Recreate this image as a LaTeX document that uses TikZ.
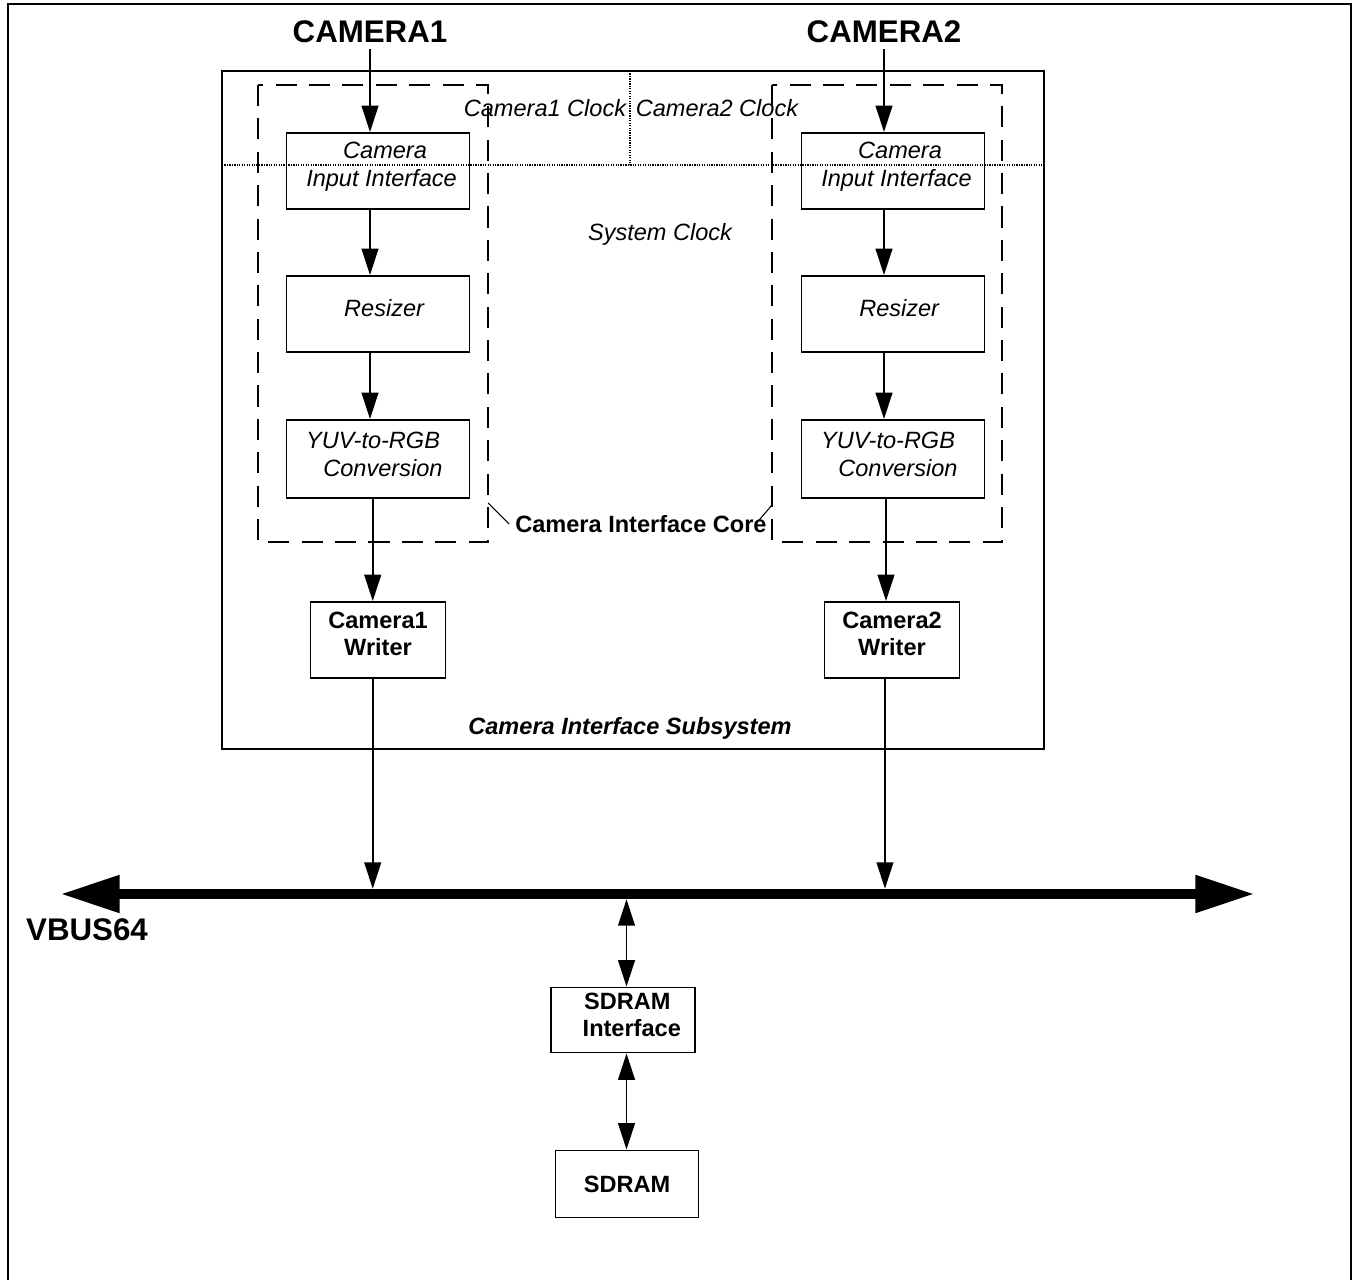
\documentclass[tikz,border=0pt]{standalone}
\usepackage{fontspec}
\setmainfont{Liberation Sans}
\usetikzlibrary{arrows.meta, positioning, calc}

\begin{document}
\begin{tikzpicture}[x=0.02cm, y=-0.02cm,
  unit/.style={draw, line width=1.1pt, inner sep=0pt, align=center,
    minimum width=3.66cm, minimum height=1.52cm,
    font=\fontsize{13.4}{15.9}\selectfont\itshape},
  wbox/.style={draw, line width=1.1pt, inner sep=0pt, align=center,
    font=\fontsize{13.4}{15.5}\selectfont\bfseries},
  flow/.style={line width=1.1pt, -{Triangle[length=15pt, width=9.5pt]}},
  flow2/.style={line width=1.1pt, {Triangle[length=15pt, width=9.5pt]}-{Triangle[length=15pt, width=9.5pt]}},
  core/.style={line width=1.1pt, dash pattern=on 12pt off 7pt},
  clk/.style={line width=0.6pt, dash pattern=on 0.7pt off 0.7pt},
  lbl/.style={font=\fontsize{13.4}{16}\selectfont\itshape},
  big/.style={font=\fontsize{17.8}{20}\selectfont\bfseries}]

  \useasboundingbox (0,0) rectangle (1357,1280);

  %% Outer frame (bottom edge runs off the page)
  \draw[line width=1.1pt] (8,1300) -- (8,4) -- (1351,4) -- (1351,1300);

  %% Subsystem and core outlines
  \draw[line width=1.1pt] (222,71) rectangle (1044,749);
  \draw[core] (258,85) rectangle (488,542);
  \draw[core] (772,85) rectangle (1002,542);

  %% Clock domain borders
  \draw[clk] (630,71) -- (630,165);
  \draw[clk] (222,165) -- (1044,165);
  \node[lbl] (clk1) at (545,108) {Camera1 Clock};
  \node[lbl] (clk2) at (717,108) {Camera2 Clock};
  \node[lbl] (sysclk) at (660,234) {System Clock};

  %% Camera inputs
  \node[big] (cam1) at (370,32) {CAMERA1};
  \node[big] (cam2) at (884,32) {CAMERA2};

  %% Left pipeline
  \node[unit, text depth=7.5pt] (in1) at (378,171) {\hspace*{8pt}Camera\\\hspace*{4pt}Input Interface};
  \node[unit, text depth=6.8pt] (rs1) at (378,314) {\hspace*{7pt}Resizer};
  \node[unit, text depth=5.6pt, minimum height=1.56cm] (yuv1) at (378,459) {YUV-to-RGB\hspace*{5.6pt}\\\hspace*{5.6pt}Conversion};
  \node[wbox, text depth=6.8pt, minimum width=2.7cm, minimum height=1.52cm] (wr1) at (378,640) {Camera1\\Writer};

  %% Right pipeline
  \node[unit, text depth=7.5pt] (in2) at (893,171) {\hspace*{8pt}Camera\\\hspace*{4pt}Input Interface};
  \node[unit, text depth=6.8pt] (rs2) at (893,314) {\hspace*{7pt}Resizer};
  \node[unit, text depth=5.6pt, minimum height=1.56cm] (yuv2) at (893,459) {YUV-to-RGB\hspace*{5.6pt}\\\hspace*{5.6pt}Conversion};
  \node[wbox, text depth=6.8pt, minimum width=2.7cm, minimum height=1.52cm] (wr2) at (892,640) {Camera2\\Writer};

  %% Labels of the outlines
  \node[font=\fontsize{13.4}{16}\selectfont\bfseries] (corelbl) at (641,524) {Camera Interface Core};
  \coordinate (core1) at (488,503);
  \coordinate (core2) at (772,505);
  \draw[line width=0.6pt] (corelbl.west) -- (core1);
  \draw[line width=0.6pt] ([xshift=-8pt, yshift=2pt]corelbl.east) -- (core2);
  \node[font=\fontsize{13.4}{16}\selectfont\bfseries\itshape] (sublbl) at (630,728) {Camera Interface Subsystem};

  %% Bus
  \coordinate (busL) at (60,894);
  \coordinate (busR) at (1255,894);
  \node[big, anchor=west] (vbus) at (20,930) {VBUS64};

  %% Memory side
  \node[wbox, text depth=5.6pt, minimum width=2.88cm, minimum height=1.3cm] (sdi) at (623,1020) {\hspace*{5pt}SDRAM\\\hspace*{10pt}Interface};
  \node[wbox, minimum width=2.86cm, minimum height=1.34cm] (sdr) at (627,1184) {SDRAM};

  %% Data flow
  \draw[flow] (cam1.south) -- (cam1.south |- in1.north);
  \draw[flow] (cam1.south |- in1.south) -- (cam1.south |- rs1.north);
  \draw[flow] (cam1.south |- rs1.south) -- (cam1.south |- yuv1.north);
  \draw[flow] ([xshift=-3pt]yuv1.south) -- ([xshift=-3pt]yuv1.south |- wr1.north);
  \draw[flow, shorten >=3pt] ([xshift=-3pt]wr1.south) -- ([xshift=-3pt]wr1.south |- busL);

  \draw[flow] (cam2.south) -- (cam2.south |- in2.north);
  \draw[flow] (cam2.south |- in2.south) -- (cam2.south |- rs2.north);
  \draw[flow] (cam2.south |- rs2.south) -- (cam2.south |- yuv2.north);
  \draw[flow] ([xshift=-4pt]yuv2.south) -- ([xshift=-4pt]yuv2.south |- wr2.north);
  \draw[flow, shorten >=3pt] ([xshift=-4pt]wr2.south) -- ([xshift=-4pt]wr2.south |- busL);

  \draw[line width=6.2pt, {Triangle[length=34pt, width=20pt]}-{Triangle[length=34pt, width=20pt]}] (busL) -- (busR);

  \draw[flow2, shorten <=3pt] ([xshift=2pt]sdi.north |- busL) -- ([xshift=2pt]sdi.north);
  \draw[flow2] ([xshift=2pt]sdi.south) -- ([xshift=2pt]sdi.south |- sdr.north);

\end{tikzpicture}
\end{document}
